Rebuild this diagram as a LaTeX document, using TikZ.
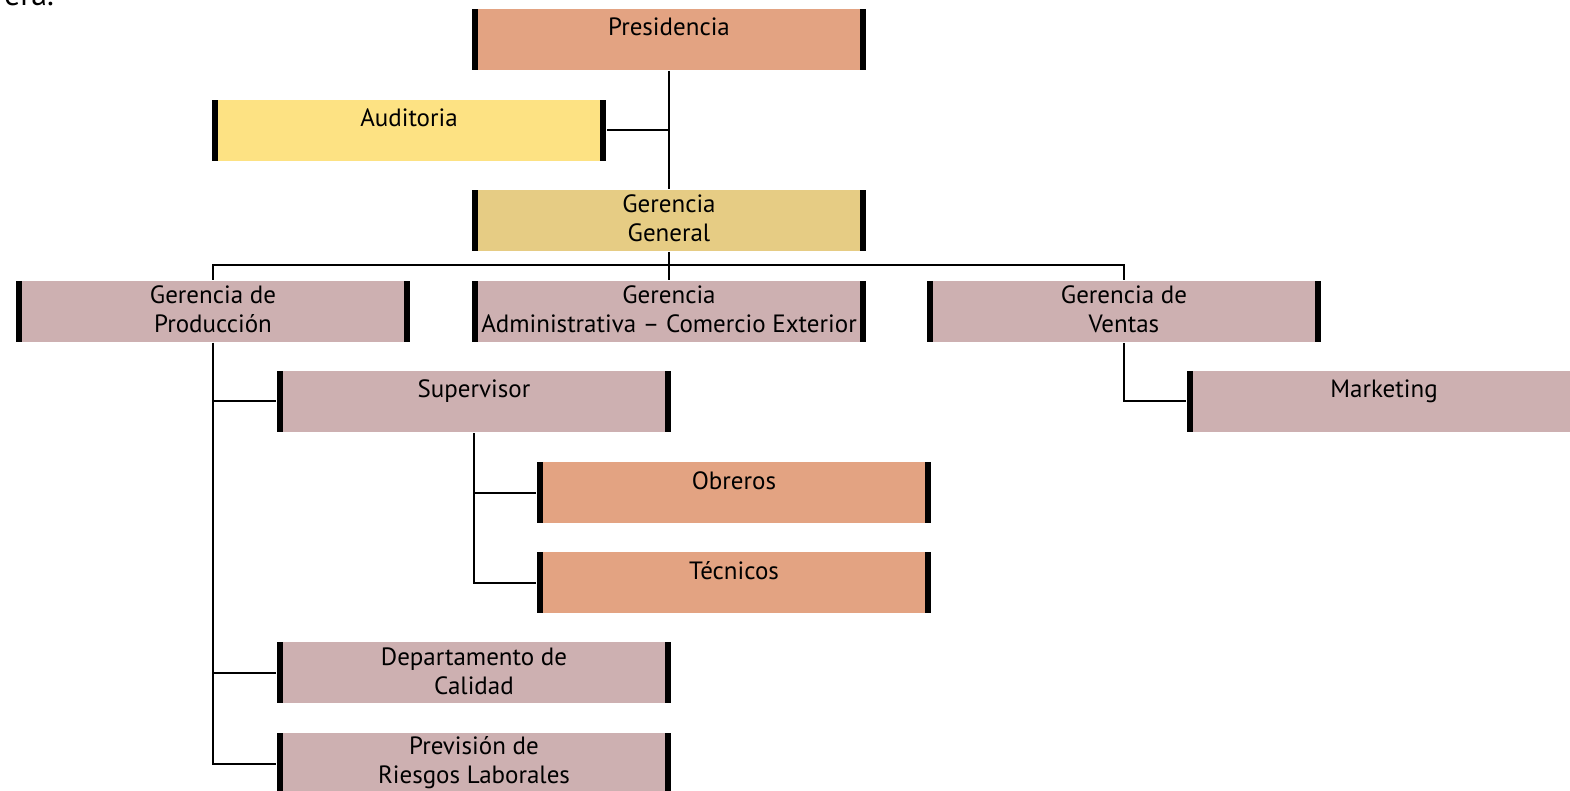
\documentclass[tikz,border=0pt]{standalone}
\usepackage{fontspec}
\setmainfont{PT Sans}
\definecolor{salmon}{HTML}{E3A382}
\definecolor{amarillo}{HTML}{FDE283}
\definecolor{dorado}{HTML}{E6CC84}
\definecolor{rosa}{HTML}{CDB0B1}
\tikzset{
	tope/.store in=\topecargo, tope=13.5pt,
	cargo/.style={fill=#1, anchor=north west, inner sep=0pt, minimum width=197pt, minimum height=30.5pt,
		font=\fontsize{12.5}{14.5}\selectfont,
		execute at begin node={\begin{minipage}[t][30.5pt][t]{197pt}\centering\rule{0pt}{\topecargo}},
		execute at end node={\end{minipage}},
		path picture={
			\fill[black] (path picture bounding box.north west) rectangle ([xshift=3pt]path picture bounding box.south west);
			\fill[black] (path picture bounding box.north east) rectangle ([xshift=-3pt]path picture bounding box.south east);
		}},
	cargo/.default=rosa,
	doble/.style={tope=11.5pt}
}
\begin{document}
\begin{tikzpicture}[x=0.5pt, y=-0.5pt, every path/.style={line width=1pt}]
			\useasboundingbox (0,0) rectangle (1570,791);
			\node[anchor=base east, inner sep=0pt, font=\fontsize{16}{18}\selectfont] (resto) at (55,6) {era.};
			\node[cargo=salmon] (pres) at (471,8) {Presidencia};
			\node[cargo=amarillo] (audi) at (211,99) {Auditoria};
			\node[cargo=dorado, doble] (gg) at (471,189) {Gerencia\\General};
			\node[cargo, doble] (prod) at (15,280) {Gerencia de\\Producción};
			\node[cargo, doble] (adm) at (471,280) {Gerencia\\Administrativa -- Comercio Exterior};
			\node[cargo, doble] (ventas) at (926,280) {Gerencia de\\Ventas};
			\node[cargo] (sup) at (276,370) {Supervisor};
			\node[cargo] (mkt) at (1186,370) {Marketing};
			\node[cargo=salmon] (obr) at (536,461) {Obreros};
			\node[cargo=salmon] (tec) at (536,551) {Técnicos};
			\node[cargo, doble] (cal) at (276,641) {Departamento de\\Calidad};
			\node[cargo, doble, tope=10.5pt] (prev) at (276,732) {Previsión de\\Riesgos Laborales};
			\coordinate (bus) at (669,265);
			\draw (pres.south) to (gg.north);
			\draw (audi.east) to (pres.south |- audi.east);
			\draw (gg.south) to (bus);
			\draw (bus) -| (prod.north);
			\draw (bus) to (adm.north);
			\draw (bus) -| (ventas.north);
			\draw (prod.south) |- (sup.west);
			\draw (prod.south) |- (cal.west);
			\draw (prod.south) |- (prev.west);
			\draw (sup.south) |- (obr.west);
			\draw (sup.south) |- (tec.west);
			\draw (ventas.south) |- (mkt.west);
\end{tikzpicture}
\end{document}
